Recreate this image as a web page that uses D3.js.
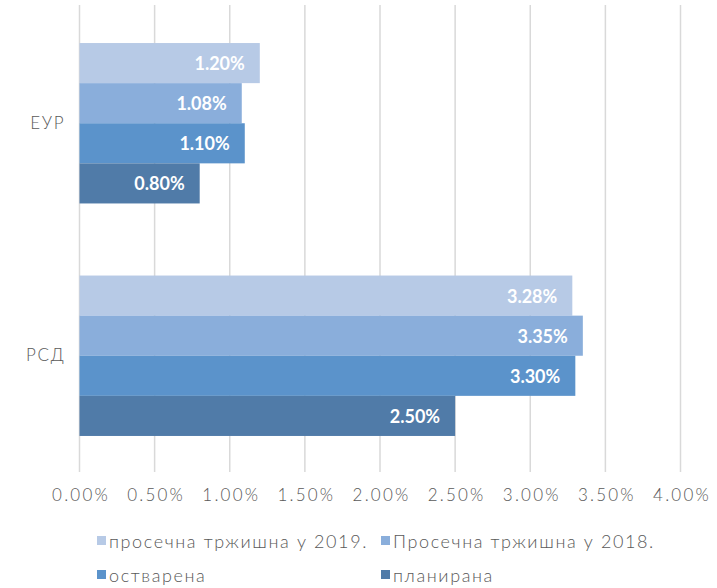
<!DOCTYPE html>
<html>
<head>
<meta charset="utf-8">
<script src="https://cdn.jsdelivr.net/npm/d3@7"></script>
<style>
  html, body { margin: 0; padding: 0; background: #fff; }
  svg { display: block; }
  text { font-family: "Century Gothic", "Lato", "Noto Sans", sans-serif; }
</style>
</head>
<body>
<svg id="chart" width="717" height="588"></svg>
<script>
// Interest rates by currency (percent)
const categories = ["ЕУР", "РСД"];
const seriesNames = ["просечна тржишна у 2019.", "Просечна тржишна у 2018.", "остварена", "планирана"];
const seriesColors = ["#b7cae6", "#8aaedb", "#5b93cb", "#507ba8"];
const valuesEUR = [1.20, 1.08, 1.10, 0.80];
const valuesRSD = [3.28, 3.35, 3.30, 2.50];
const tickValues = [0, 0.5, 1.0, 1.5, 2.0, 2.5, 3.0, 3.5, 4.0];

const rows = [
  { category: categories[0], values: valuesEUR },
  { category: categories[1], values: valuesRSD }
];

const svg = d3.select("#chart");
const margin = { left: 79.5, right: 36.5, top: 7, bottom: 116 };
const W = 717, H = 588;
const plotW = W - margin.left - margin.right;
const plotH = H - margin.top - margin.bottom;

const x = d3.scaleLinear().domain([0, 4]).range([0, plotW]);
const y0 = d3.scaleBand().domain(categories).range([0, plotH]).paddingInner(0.31).paddingOuter(0.155);
const y1 = d3.scaleBand().domain(seriesNames).range([0, y0.bandwidth()]);
const color = d3.scaleOrdinal().domain(seriesNames).range(seriesColors);

const g = svg.append("g").attr("transform", `translate(${margin.left},${margin.top})`);

// vertical gridlines
g.append("g")
  .selectAll("line")
  .data(tickValues)
  .join("line")
  .attr("x1", d => x(d)).attr("x2", d => x(d))
  .attr("y1", -2).attr("y2", plotH)
  .attr("stroke", "#d9d9d9")
  .attr("stroke-width", 1.5);

// x axis tick labels
const xAxis = d3.axisBottom(x).tickValues(tickValues).tickSize(0).tickPadding(0)
  .tickFormat(d => d.toFixed(2) + "%");
const xa = g.append("g").attr("transform", `translate(0,${plotH})`).call(xAxis);
xa.select(".domain").remove();
xa.selectAll("text")
  .attr("dy", null)
  .attr("x", 1)
  .attr("y", 25)
  .attr("dominant-baseline", "middle")
  .attr("fill", "#595959")
  .attr("font-size", 17)
  .attr("font-weight", 300)
  .attr("letter-spacing", 2.2)
  .style("font-family", null);

// category labels
const yAxis = d3.axisLeft(y0).tickSize(0).tickPadding(14);
const ya = g.append("g").call(yAxis);
ya.select(".domain").remove();
ya.selectAll("text")
  .attr("fill", "#595959")
  .attr("font-size", 17)
  .attr("font-weight", 300)
  .attr("letter-spacing", 1.8)
  .style("font-family", null);

// bars
const groups = g.selectAll("g.cat")
  .data(rows)
  .join("g")
  .attr("class", "cat")
  .attr("transform", d => `translate(0,${y0(d.category)})`);

const items = groups.selectAll("g.bar")
  .data(d => d.values.map((v, i) => ({ name: seriesNames[i], value: v })))
  .join("g")
  .attr("class", "bar");

items.append("rect")
  .attr("x", 0)
  .attr("y", d => y1(d.name))
  .attr("width", d => x(d.value))
  .attr("height", y1.bandwidth())
  .attr("fill", d => color(d.name));

items.append("text")
  .attr("x", d => x(d.value) - 15)
  .attr("y", d => y1(d.name) + y1.bandwidth() / 2)
  .attr("text-anchor", "end")
  .attr("dominant-baseline", "central")
  .attr("fill", "#ffffff")
  .attr("font-size", 18)
  .attr("font-weight", 700)
  .text(d => d.value.toFixed(2) + "%");

// legend
const legendPos = [[97, 541], [381, 541], [97, 575], [381, 575]];
const legend = svg.append("g")
  .selectAll("g")
  .data(seriesNames)
  .join("g")
  .attr("transform", (d, i) => `translate(${legendPos[i][0]},${legendPos[i][1]})`);
legend.append("rect")
  .attr("x", 0).attr("y", -5)
  .attr("width", 9).attr("height", 9)
  .attr("fill", d => color(d));
legend.append("text")
  .attr("x", 12)
  .attr("y", 0)
  .attr("dominant-baseline", "central")
  .attr("fill", "#595959")
  .attr("font-size", 18)
  .attr("font-weight", 300)
  .attr("letter-spacing", 1.6)
  .text(d => d);
</script>
</body>
</html>
